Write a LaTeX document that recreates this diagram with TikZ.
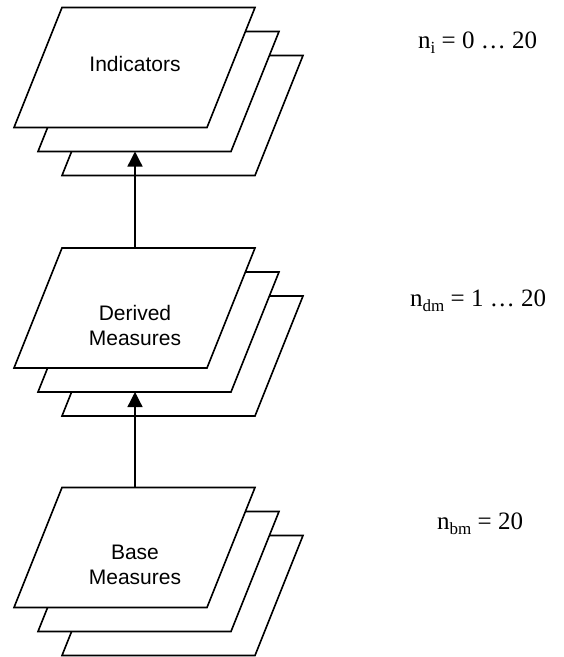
\documentclass[tikz,border=0pt]{standalone}
\usepackage{fontspec}
\setmainfont{Liberation Serif}
\newfontfamily\arialfont{Liberation Sans}
\usetikzlibrary{arrows.meta}
\newcommand\subtxt[1]{\raisebox{-0.2em}{\fontsize{17}{17}\selectfont #1}}
\begin{document}
\begin{tikzpicture}[x=1pt,y=-1pt,
  plane/.style={draw=black,line width=1.6pt,fill=white,line join=miter},
  conn/.style={line width=1.3pt,-{Triangle[length=15pt,width=15pt]}},
  lbl/.style={font=\arialfont\fontsize{21}{25}\selectfont,align=center},
  cnt/.style={font=\fontsize{25}{28}\selectfont,anchor=base west,inner sep=0pt}]
\useasboundingbox (0,0) rectangle (564,657);
\foreach \y in {7.5,248,487.5}{
  \foreach \d in {48,24,0}{
    \draw[plane] (62+\d,\y+\d) -- ++(193,0) -- ++(-48,120) -- ++(-193,0) -- cycle;
  }
}
\node[lbl] (ind) at (135,64) {Indicators};
\node[lbl] (dm) at (135,325) {Derived\\Measures};
\node[lbl] (bm) at (135,565) {Base\\Measures};
\coordinate (bmtop) at (135,487.5);
\coordinate (dmin) at (135,392);
\coordinate (dmtop) at (135,248);
\coordinate (indin) at (135,151.5);
\draw[conn] (bmtop) -- (dmin);
\draw[conn] (dmtop) -- (indin);
\node[cnt] (ni) at (418,48) {n\subtxt{i} = 0 … 20};
\node[cnt] (ndm) at (410,306) {n\subtxt{dm} = 1 … 20};
\node[cnt] (nbm) at (437,529) {n\subtxt{bm} = 20};
\end{tikzpicture}
\end{document}
